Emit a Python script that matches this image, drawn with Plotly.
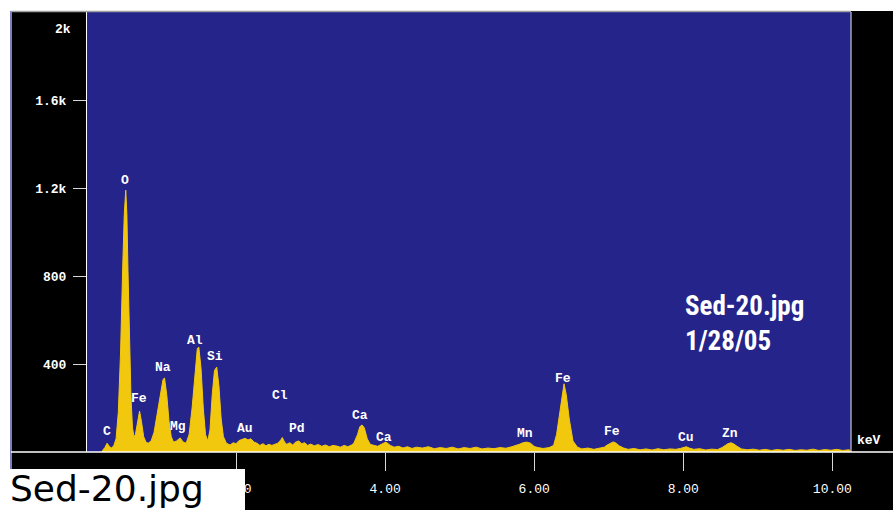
import plotly.graph_objects as go

# EDS spectrum: energy (keV) and counts
energy = [
    0.20, 0.21, 0.24, 0.27, 0.30, 0.33, 0.36, 0.39, 0.42, 0.45, 0.48, 0.50, 0.52, 0.535,
    0.55, 0.57, 0.59, 0.61, 0.63, 0.65, 0.68, 0.705, 0.73, 0.76, 0.79, 0.82, 0.86, 0.90,
    0.94, 0.98, 1.02, 1.04, 1.07, 1.10, 1.13, 1.16, 1.20, 1.25, 1.29, 1.33, 1.37, 1.41,
    1.45, 1.48, 1.50, 1.53, 1.56, 1.59, 1.62, 1.65, 1.68, 1.71, 1.74, 1.77, 1.80, 1.83,
    1.87, 1.92, 1.96, 2.00, 2.04, 2.08, 2.12, 2.16, 2.20, 2.24, 2.28, 2.32, 2.36, 2.40,
    2.44, 2.48, 2.52, 2.56, 2.60, 2.62, 2.65, 2.68, 2.72, 2.76, 2.80, 2.84, 2.88, 2.92,
    2.96, 3.00, 3.05, 3.10, 3.15, 3.20, 3.25, 3.30, 3.35, 3.40, 3.45, 3.50, 3.55, 3.58,
    3.63, 3.66, 3.69, 3.72, 3.76, 3.80, 3.85, 3.90, 3.95, 4.01, 4.07, 4.12, 4.18, 4.24,
    4.30, 4.36, 4.42, 4.50, 4.58, 4.66, 4.74, 4.82, 4.90, 4.98, 5.06, 5.14, 5.22, 5.30,
    5.38, 5.46, 5.54, 5.62, 5.70, 5.75, 5.80, 5.85, 5.90, 5.95, 6.00, 6.05, 6.12, 6.20,
    6.26, 6.30, 6.33, 6.37, 6.40, 6.43, 6.47, 6.52, 6.58, 6.64, 6.72, 6.80, 6.88, 6.94,
    6.98, 7.02, 7.06, 7.10, 7.14, 7.20, 7.26, 7.34, 7.42, 7.50, 7.58, 7.66, 7.74, 7.82,
    7.90, 7.96, 8.00, 8.04, 8.08, 8.14, 8.22, 8.30, 8.38, 8.46, 8.52, 8.56, 8.60, 8.64,
    8.68, 8.72, 8.78, 8.86, 8.94, 9.02, 9.10, 9.18, 9.26, 9.34, 9.42, 9.50, 9.58, 9.66,
    9.74, 9.82, 9.90, 9.98, 10.06, 10.14, 10.22, 10.25,
]
counts = [
    0, 8, 20, 40, 25, 18, 30, 60, 180, 450, 850, 1080, 1190, 1080,
    820, 500, 250, 110, 70, 80, 140, 186, 140, 70, 45, 40, 50, 90,
    170, 260, 330, 336, 260, 140, 70, 45, 50, 64, 45, 40, 80, 200,
    380, 470, 477, 380, 200, 80, 50, 100, 260, 370, 386, 300, 150, 70,
    40, 32, 42, 38, 52, 58, 62, 55, 60, 45, 40, 30, 38, 28,
    35, 30, 36, 40, 55, 66, 45, 35, 42, 32, 45, 50, 38, 42,
    30, 36, 28, 34, 26, 32, 24, 30, 27, 22, 30, 24, 32, 40,
    80, 115, 123, 110, 60, 35, 30, 26, 35, 45, 30, 22, 26, 18,
    24, 16, 22, 18, 24, 15, 20, 16, 22, 14, 20, 16, 22, 14,
    18, 15, 20, 17, 24, 28, 35, 42, 45, 40, 25, 20, 16, 20,
    30, 80, 150, 260, 310, 260, 150, 50, 22, 14, 18, 12, 16, 22,
    32, 40, 46, 40, 28, 18, 12, 16, 10, 14, 9, 15, 10, 14,
    12, 16, 20, 24, 18, 12, 15, 9, 13, 11, 20, 30, 38, 42,
    36, 26, 14, 10, 13, 8, 12, 7, 11, 8, 12, 7, 10, 8,
    13, 7, 11, 8, 12, 7, 10, 6,
]

# element labels and where they sit
elements = ["C", "O", "Fe", "Na", "Mg", "Al", "Si", "Au", "Cl", "Pd",
            "Ca", "Ca", "Mn", "Fe", "Fe", "Cu", "Zn"]
element_kev = [0.27, 0.51, 0.70, 1.02, 1.22, 1.45, 1.72, 2.12, 2.59, 2.82,
               3.66, 3.99, 5.87, 6.39, 7.05, 8.03, 8.63]
label_counts = [91, 1236, 241, 382, 114, 505, 436, 109, 255, 105,
                168, 64, 86, 336, 91, 64, 86]

y_ticks = [400, 800, 1200, 1600]
y_tick_text = ["400", "800", "1.2k", "1.6k"]
y_top_label = "2k"
x_ticks = [2, 4, 6, 8, 10]
x_tick_text = ["2.00", "4.00", "6.00", "8.00", "10.00"]

mono = "Liberation Mono, DejaVu Sans Mono, monospace"
narrow = "Liberation Sans Narrow, Roboto Condensed, Liberation Sans"

fig = go.Figure(
    go.Scatter(
        x=energy,
        y=counts,
        mode="lines",
        fill="tozeroy",
        fillcolor="#f2c80f",
        line=dict(color="#f2c80f", width=1),
        hoverinfo="skip",
    )
)

for name, kev, c in zip(elements, element_kev, label_counts):
    fig.add_annotation(
        x=kev, y=c, text=name, showarrow=False,
        font=dict(family=mono, size=13, color="white", weight="bold"),
    )

# the top y label sits just under the frame, not on a tick
fig.add_annotation(
    xref="paper", yref="paper", x=(73 - 87) / 764, y=(452 - 29) / 440,
    xanchor="right", yanchor="middle", text=y_top_label, showarrow=False,
    font=dict(family=mono, size=13, color="white", weight="bold"),
)
fig.add_annotation(
    xref="paper", yref="paper", x=(855 - 87) / 764, y=(452 - 440) / 440,
    xanchor="left", yanchor="middle", text="keV", showarrow=False,
    font=dict(family=mono, size=13, color="white", weight="bold"),
)
fig.add_annotation(
    xref="paper", yref="paper", x=(683 - 87) / 764, y=(452 - 306) / 440,
    xanchor="left", yanchor="middle", text="Sed-20.jpg", showarrow=False,
    font=dict(family=narrow, size=27, color="white", weight="bold"),
)
fig.add_annotation(
    xref="paper", yref="paper", x=(683 - 87) / 764, y=(452 - 341) / 440,
    xanchor="left", yanchor="middle", text="1/28/05", showarrow=False,
    font=dict(family=narrow, size=27, color="white", weight="bold"),
)
fig.add_annotation(
    xref="paper", yref="paper", x=(8 - 87) / 764, y=(452 - 488) / 440,
    xanchor="left", yanchor="middle", text="Sed-20.jpg", showarrow=False,
    font=dict(family="DejaVu Sans", size=36, color="black"),
)

# white strips around the black frame, and the label box at bottom left
fig.add_shape(type="rect", xref="paper", yref="paper", layer="above",
              x0=-0.12, x1=1.06, y0=(452 - 11) / 440, y1=1.04,
              fillcolor="white", line_width=0)
fig.add_shape(type="rect", xref="paper", yref="paper", layer="above",
              x0=-0.12, x1=(10 - 87) / 764, y0=(452 - 470) / 440, y1=1.04,
              fillcolor="white", line_width=0)
fig.add_shape(type="line", xref="paper", yref="paper", layer="above",
              x0=(11 - 87) / 764, x1=(11 - 87) / 764, y0=(452 - 470) / 440, y1=(452 - 11) / 440,
              line=dict(color="#7b7fc0", width=2))
fig.add_shape(type="line", xref="paper", yref="paper", layer="above",
              x0=(11 - 87) / 764, x1=1, y0=(452 - 11.5) / 440, y1=(452 - 11.5) / 440,
              line=dict(color="#a0a0a0", width=1.5))
fig.add_shape(type="line", xref="paper", yref="paper", layer="above",
              x0=1, x1=1, y0=0, y1=1,
              line=dict(color="#a0a0b8", width=1.5))
fig.add_shape(type="line", xref="paper", yref="paper", layer="above",
              x0=(11 - 87) / 764, x1=(893 - 87) / 764, y0=0, y1=0,
              line=dict(color="white", width=1.5))
fig.add_shape(type="rect", xref="paper", yref="paper", layer="above",
              x0=-0.12, x1=(245 - 87) / 764, y0=-0.14, y1=(452 - 469) / 440,
              fillcolor="white", line_width=0)

fig.update_layout(
    width=893,
    height=510,
    margin=dict(l=87, r=42, t=12, b=58),
    paper_bgcolor="black",
    plot_bgcolor="#24248a",
    showlegend=False,
    xaxis=dict(
        range=[0, 10.25],
        tickvals=x_ticks,
        ticktext=x_tick_text,
        ticks="outside",
        ticklen=18,
        tickcolor="#d8d8d8",
        tickwidth=1,
        showgrid=False,
        zeroline=False,
        showline=False,
        tickfont=dict(family=mono, size=13, color="white"),
        ticklabelstandoff=6,
    ),
    yaxis=dict(
        range=[0, 2000],
        tickvals=y_ticks,
        ticktext=y_tick_text,
        ticks="outside",
        ticklen=13,
        tickcolor="#d8d8d8",
        tickwidth=1,
        showgrid=False,
        zeroline=False,
        showline=True,
        linecolor="white",
        linewidth=1,
        tickfont=dict(family=mono, size=13, color="white", weight="bold"),
        ticklabelstandoff=4,
    ),
)

fig.write_html(
    "out.html",
    config={"displayModeBar": False},
    post_script="document.body.style.margin = '0';",
)
